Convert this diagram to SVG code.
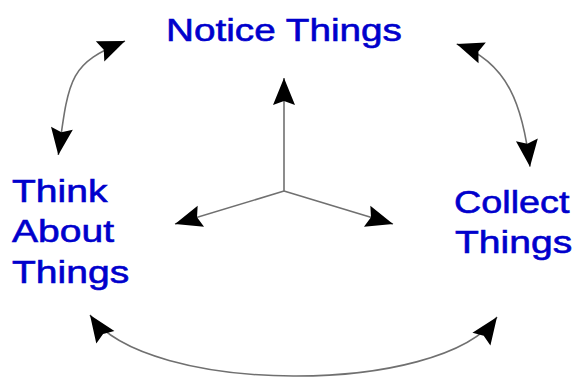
<svg xmlns="http://www.w3.org/2000/svg" width="575" height="378" viewBox="0 0 575 378">
  <style>
    .label { font-family: "Liberation Sans", Arial, sans-serif; font-size: 32px; fill: #0000cc; stroke: #0000cc; stroke-width: 0.6; }
    .link { fill: none; stroke: #707070; stroke-width: 1.6; }
  </style>
  <defs>
    <!-- notched arrowhead, tip at the path end -->
    <marker id="head" viewBox="-29 -12 31 24" markerWidth="31" markerHeight="24" refX="0" refY="0" markerUnits="userSpaceOnUse" orient="auto-start-reverse">
      <path d="M0,0 L-27,-11 L-23,0 L-27,11 Z" fill="#000"/>
    </marker>
  </defs>

  <rect width="575" height="378" fill="#fff"/>

  <g id="connectors">
    <!-- three spokes from the centre -->
    <path class="link" d="M284,191 L284,78" marker-end="url(#head)"/>
    <path class="link" d="M284,191 L175,224" marker-end="url(#head)"/>
    <path class="link" d="M284,191 L393,224" marker-end="url(#head)"/>
    <!-- curved two-way arrows between the labels -->
    <path class="link" d="M58.3,155 C69,75.7 69.6,64.1 125,41" marker-start="url(#head)" marker-end="url(#head)"/>
    <path class="link" d="M456.7,44 C508.6,62.2 523.1,107.1 530,166.7" marker-start="url(#head)" marker-end="url(#head)"/>
    <path class="link" d="M90,315 C145.5,395.3 440.7,396.7 497,317" marker-start="url(#head)" marker-end="url(#head)"/>
  </g>

  <!-- labels are set in a horizontally widened face -->
  <g id="node-notice">
    <text class="label" transform="translate(166,41) scale(1.21,1)">Notice Things</text>
  </g>

  <g id="node-think">
    <text class="label" transform="translate(12,202) scale(1.22,1)">Think</text>
    <text class="label" transform="translate(12,242) scale(1.22,1)">About</text>
    <text class="label" transform="translate(12,283) scale(1.22,1)">Things</text>
  </g>

  <g id="node-collect">
    <text class="label" transform="translate(454,213) scale(1.18,1)">Collect</text>
    <text class="label" transform="translate(455,253) scale(1.22,1)">Things</text>
  </g>
</svg>
